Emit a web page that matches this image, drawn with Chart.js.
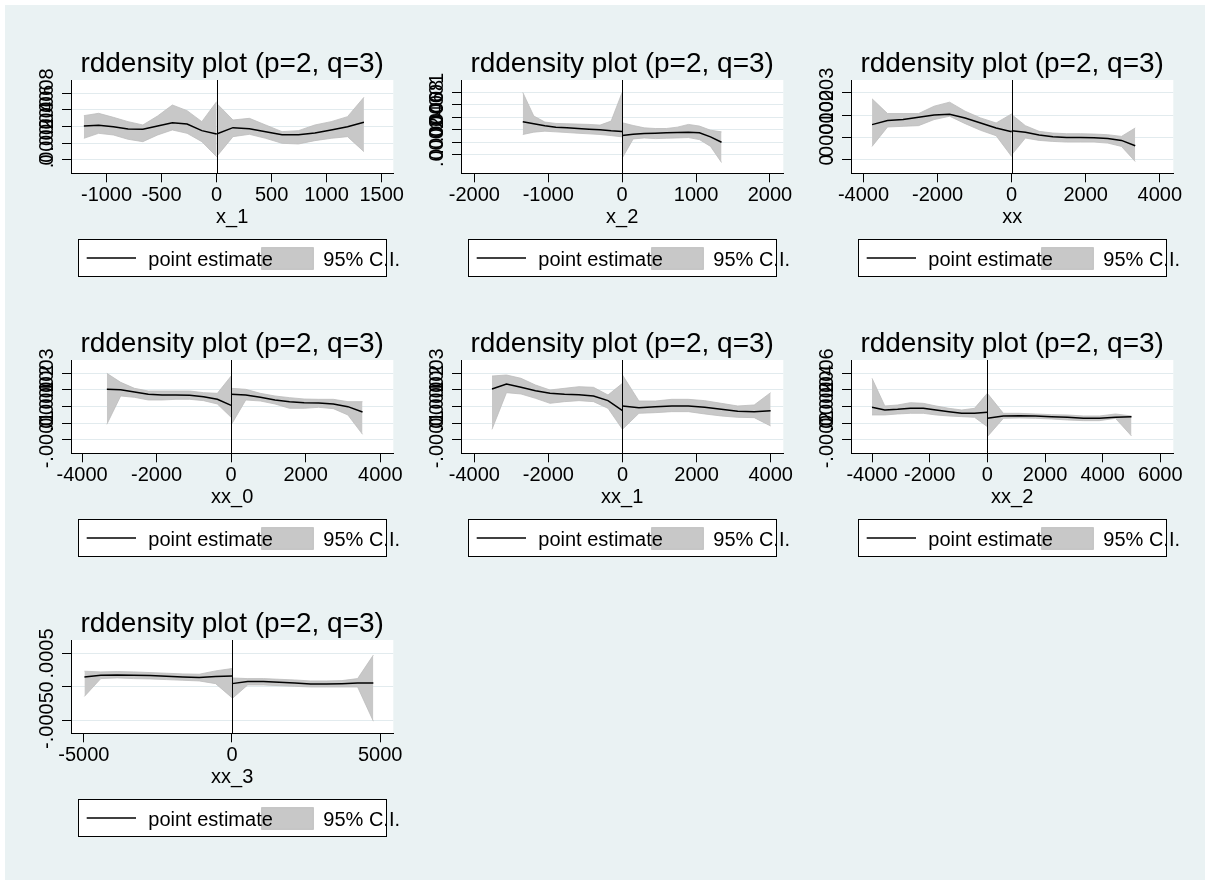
<!DOCTYPE html>
<html><head><meta charset="utf-8">
<script src="https://cdn.jsdelivr.net/npm/chart.js@4.4.1/dist/chart.umd.min.js"></script>
<style>
html,body{margin:0;padding:0;background:#fff;width:1209px;height:880px;overflow:hidden;}
#bg{position:absolute;left:5px;top:5px;width:1200px;height:875px;background:#eaf2f3;}
.panel{position:absolute;width:390px;height:280px;}
</style></head><body>
<div id="bg"></div>
<div class="panel" style="left:20px;top:10px"><canvas id="c0"></canvas></div>
<div class="panel" style="left:410px;top:10px"><canvas id="c1"></canvas></div>
<div class="panel" style="left:800px;top:10px"><canvas id="c2"></canvas></div>
<div class="panel" style="left:20px;top:290px"><canvas id="c3"></canvas></div>
<div class="panel" style="left:410px;top:290px"><canvas id="c4"></canvas></div>
<div class="panel" style="left:800px;top:290px"><canvas id="c5"></canvas></div>
<div class="panel" style="left:20px;top:570px"><canvas id="c6"></canvas></div>
<script>
// ---------- text ----------
const chartTitle = 'rddensity plot (p=2, q=3)';
const axisTitles = ['x_1', 'x_2', 'xx', 'xx_0', 'xx_1', 'xx_2', 'xx_3'];
const legendLabels = ['point estimate', '95% C.I.'];

// ---------- x_1 ----------
const x1GridL = [-1206, -1072, -938, -804, -670, -536, -402, -268, -134, 0];
const x1EstL  = [.000408, .000416, .0004, .000372, .000368, .000408, .000448, .000432, .000352, .000312];
const x1HiL   = [.000532, .00056, .000512, .00046, .00042, .000528, .00066, .000592, .00046, .0007];
const x1LoL   = [.00026, .00032, .0003, .000248, .00022, .0003, .00036, .00032, .00022, .00004];
const x1GridR = [0, 149, 298, 446, 595, 744, 893, 1041, 1190, 1339];
const x1EstR  = [.000312, .000388, .000376, .00034, .000304, .000304, .000324, .00036, .0004, .000452];
const x1HiR   = [.00068, .00048, .0005, .00042, .00034, .000352, .00042, .00046, .00052, .000752];
const x1LoR   = [.00004, .00028, .000308, .00026, .0002, .000192, .000232, .00026, .00028, .0001];
const x1XTicks = [-1000, -500, 0, 500, 1000, 1500];
const x1YTicks = [0, .0002, .0004, .0006, .0008];
const x1YLabels = ['0', '.0002', '.0004', '.0006', '.0008'];
const x1XRange = [-1323, 1606];
const x1YRange = [-0.00016, 0.00096];

// ---------- x_2 ----------
const x2GridL = [-1345, -1196, -1046, -897, -747, -598, -448, -299, -149, 0];
const x2EstL  = [.000527, .000495, .000462, .00044, .000429, .000418, .000408, .000397, .00038, .00037];
const x2HiL   = [.001, .00062, .000522, .0005, .000495, .000489, .000484, .000473, .000538, .001];
const x2LoL   = [.000321, .000359, .000375, .000364, .000353, .000342, .000332, .000321, .000304, .000283];
const x2GridR = [0, 149, 299, 448, 598, 747, 897, 1046, 1196, 1345];
const x2EstR  = [.000304, .000326, .000337, .000342, .000348, .000353, .000359, .000348, .000283, .000196];
const x2HiR   = [.000511, .000467, .000429, .000418, .000418, .00044, .000484, .000457, .000391, .000364];
const x2LoR   = [-.00006, .00025, .000266, .000255, .000261, .000266, .000272, .000239, .00013, -.00013];
const x2XTicks = [-2000, -1000, 0, 1000, 2000];
const x2YTicks = [0, .0002, .0004, .0006, .0008, .001];
const x2YLabels = ['0', '.0002', '.0004', '.0006', '.0008', '.001'];
const x2XRange = [-2181, 2181];
const x2YRange = [-0.000304, 0.0012];

// ---------- xx ----------
const xxGridL = [-3769, -3350, -2931, -2513, -2094, -1675, -1256, -838, -419, 0];
const xxEstL  = [.0001575, .0001755, .00018, .0001905, .000201, .000204, .0001875, .000165, .0001425, .000126];
const xxHiL   = [.000273, .000207, .000207, .000207, .00024, .000258, .0002175, .0001875, .000165, .0002055];
const xxLoL   = [.00006, .000147, .00015, .000153, .00018, .000195, .000162, .000132, .000108, .000015];
const xxGridR = [0, 371, 741, 1112, 1483, 1853, 2224, 2595, 2965, 3336];
const xxEstR  = [.0001305, .000123, .000111, .0001035, .0001005, .0001005, .000099, .000096, .000087, .000063];
const xxHiR   = [.0002025, .000153, .0001275, .00012, .000117, .000117, .0001155, .0001125, .000105, .0001425];
const xxLoR   = [.0000225, .0000975, .000087, .0000825, .0000795, .0000795, .0000795, .000075, .00006, -.0000075];
const xxXTicks = [-4000, -2000, 0, 2000, 4000];
const xxYTicks = [0, .0001, .0002, .0003];
const xxYLabels = ['0', '.0001', '.0002', '.0003'];
const xxXRange = [-4337, 4364];
const xxYRange = [-0.00006, 0.000357];

// ---------- xx_0 ----------
const xx0GridL = [-3335, -2964, -2594, -2223, -1853, -1482, -1112, -741, -371, 0];
const xx0EstL  = [.000204, .000202, .000188, .000174, .00017, .00017, .000168, .00016, .000144, .000108];
const xx0HiL   = [.0003, .000246, .00021, .000194, .000194, .000194, .000194, .000184, .00018, .000284];
const xx0LoL   = [-.000006, .000164, .000156, .00014, .00014, .000144, .000144, .000136, .000116, .000036];
const xx0GridR = [0, 392, 783, 1175, 1566, 1958, 2349, 2741, 3132, 3524];
const xx0EstR  = [.000174, .00017, .000156, .00014, .00013, .000124, .000122, .000116, .0001, .000068];
const xx0HiR   = [.00021, .000204, .00018, .000164, .000154, .000146, .000144, .000144, .00013, .00013];
const xx0LoR   = [-.00001, .00014, .000134, .000116, .00009, .00009, .000096, .000088, .00005, -.000066];
const xx0XTicks = [-4000, -2000, 0, 2000, 4000];
const xx0YTicks = [-.0001, 0, .0001, .0002, .0003];
const xx0YLabels = ['-.0001', '0', '.0001', '.0002', '.0003'];
const xx0XRange = [-4297, 4350];
const xx0YRange = [-0.00018, 0.00038];

// ---------- xx_1 ----------
const xx1GridL = [-3523, -3132, -2740, -2349, -1957, -1566, -1174, -783, -391, 0];
const xx1EstL  = [.000206, .000236, .000216, .000196, .00018, .000174, .000172, .000164, .000136, .000076];
const xx1HiL   = [.000284, .00029, .00027, .00023, .0002, .00021, .00022, .000216, .00017, .00024];
const xx1LoL   = [-.000036, .000184, .000176, .00015, .00012, .00013, .000136, .00013, .00009, -.000036];
const xx1GridR = [0, 444, 889, 1333, 1778, 2222, 2667, 3111, 3556, 4000];
const xx1EstR  = [.000104, .000094, .0001, .000104, .000104, .000096, .000084, .000072, .00007, .000076];
const xx1HiR   = [.00029, .000134, .000134, .000144, .000144, .000136, .00012, .000104, .00011, .000184];
const xx1LoR   = [-.000036, .00006, .000064, .00007, .00007, .000056, .000044, .000036, .000034, -.000016];
const xx1XTicks = [-4000, -2000, 0, 2000, 4000];
const xx1YTicks = [-.0001, 0, .0001, .0002, .0003];
const xx1YLabels = ['-.0001', '0', '.0001', '.0002', '.0003'];
const xx1XRange = [-4360, 4342];
const xx1YRange = [-0.00018, 0.00038];

// ---------- xx_2 ----------
const xx2GridL = [-4000, -3556, -3111, -2667, -2222, -1778, -1333, -889, -444, 0];
const xx2EstL  = [.000192, .00016, .000168, .00018, .00018, .00016, .00014, .00012, .00012, .000132];
const xx2HiL   = [.00054, .000208, .00022, .000248, .00024, .000208, .00018, .00016, .00018, .00036];
const xx2LoL   = [.0001, .0001, .000112, .00012, .00012, .0001, .000088, .00008, .000072, -.00004];
const xx2GridR = [0, 556, 1111, 1667, 2222, 2778, 3333, 3889, 4444, 5000];
const xx2EstR  = [.00006, .000088, .000092, .000088, .00008, .000072, .00006, .00006, .000072, .00008];
const xx2HiR   = [.00036, .00012, .00012, .000112, .000104, .0001, .000088, .000088, .000112, .000088];
const xx2LoR   = [-.00016, .00006, .000064, .00006, .000052, .00004, .000032, .000032, .00006, -.000152];
const xx2XTicks = [-4000, -2000, 0, 2000, 4000, 6000];
const xx2YTicks = [-.0002, 0, .0002, .0004, .0006];
const xx2YLabels = ['-.0002', '0', '.0002', '.0004', '.0006'];
const xx2XRange = [-4729, 6450];
const xx2YRange = [-0.00036, 0.00076];

// ---------- xx_3 ----------
const xx3GridL = [-4980, -4427, -3873, -3320, -2767, -2213, -1660, -1107, -553, 0];
const xx3EstL  = [.00015, .000175, .00018, .000175, .00017, .00016, .00015, .00014, .000155, .000165];
const xx3HiL   = [.000235, .000225, .00023, .000225, .000215, .000205, .000195, .00019, .00024, .000275];
const xx3LoL   = [-.00014, .000125, .000135, .000125, .00012, .00011, .0001, .00009, .00005, -.00016];
const xx3GridR = [0, 530, 1060, 1590, 2120, 2650, 3180, 3710, 4240, 4770];
const xx3EstR  = [.00005, .00008, .00008, .00007, .00006, .000045, .000045, .00005, .00006, .00006];
const xx3HiR   = [.000135, .000125, .000125, .000115, .000105, .00009, .00009, .000095, .000125, .000475];
const xx3LoR   = [-.000175, .00003, .00003, .00002, .00001, 0, 0, 0, 0, -.00051];
const xx3XTicks = [-5000, 0, 5000];
const xx3YTicks = [-.0005, 0, .0005];
const xx3YLabels = ['-.0005', '0', '.0005'];
const xx3XRange = [-5433, 5444];
const xx3YRange = [-0.00069, 0.0007];

const panels = [
  {g1: x1GridL, e1: x1EstL, h1: x1HiL, l1: x1LoL, g2: x1GridR, e2: x1EstR, h2: x1HiR, l2: x1LoR, xt: x1XTicks, yt: x1YTicks, yl: x1YLabels, xr: x1XRange, yr: x1YRange},
  {g1: x2GridL, e1: x2EstL, h1: x2HiL, l1: x2LoL, g2: x2GridR, e2: x2EstR, h2: x2HiR, l2: x2LoR, xt: x2XTicks, yt: x2YTicks, yl: x2YLabels, xr: x2XRange, yr: x2YRange},
  {g1: xxGridL, e1: xxEstL, h1: xxHiL, l1: xxLoL, g2: xxGridR, e2: xxEstR, h2: xxHiR, l2: xxLoR, xt: xxXTicks, yt: xxYTicks, yl: xxYLabels, xr: xxXRange, yr: xxYRange},
  {g1: xx0GridL, e1: xx0EstL, h1: xx0HiL, l1: xx0LoL, g2: xx0GridR, e2: xx0EstR, h2: xx0HiR, l2: xx0LoR, xt: xx0XTicks, yt: xx0YTicks, yl: xx0YLabels, xr: xx0XRange, yr: xx0YRange},
  {g1: xx1GridL, e1: xx1EstL, h1: xx1HiL, l1: xx1LoL, g2: xx1GridR, e2: xx1EstR, h2: xx1HiR, l2: xx1LoR, xt: xx1XTicks, yt: xx1YTicks, yl: xx1YLabels, xr: xx1XRange, yr: xx1YRange},
  {g1: xx2GridL, e1: xx2EstL, h1: xx2HiL, l1: xx2LoL, g2: xx2GridR, e2: xx2EstR, h2: xx2HiR, l2: xx2LoR, xt: xx2XTicks, yt: xx2YTicks, yl: xx2YLabels, xr: xx2XRange, yr: xx2YRange},
  {g1: xx3GridL, e1: xx3EstL, h1: xx3HiL, l1: xx3LoL, g2: xx3GridR, e2: xx3EstR, h2: xx3HiR, l2: xx3LoR, xt: xx3XTicks, yt: xx3YTicks, yl: xx3YLabels, xr: xx3XRange, yr: xx3YRange}
];

// ---------- style ----------
const FONT = '"Liberation Sans", Arial, Helvetica, sans-serif';
const CI_FILL = '#c8c8c8';
const CI_EDGE = '#bcbcbc';
const GRID = '#e2ebee';

Chart.defaults.font.family = FONT;
Chart.defaults.color = '#000';

const stataPlugin = {
  id: 'stata',
  beforeDraw(chart) {
    const {ctx, chartArea: a} = chart;
    ctx.save();
    ctx.fillStyle = '#fff';
    ctx.fillRect(a.left, a.top, a.right - a.left, a.bottom - a.top);
    ctx.restore();
  },
  afterDatasetsDraw(chart) {
    const {ctx, chartArea: a, scales} = chart;
    const px = Math.round(scales.x.getPixelForValue(0)) + 0.5;
    ctx.save();
    ctx.strokeStyle = '#000';
    ctx.lineWidth = 1;
    ctx.beginPath();
    ctx.moveTo(px, a.top);
    ctx.lineTo(px, a.bottom);
    ctx.stroke();
    ctx.restore();
  },
  afterDraw(chart, args, opts) {
    const {ctx, chartArea: a, scales} = chart;
    const cx = (a.left + a.right) / 2;
    ctx.save();
    ctx.fillStyle = '#000';
    // title
    ctx.font = '28px ' + FONT;
    ctx.textAlign = 'center';
    ctx.textBaseline = 'alphabetic';
    ctx.fillText(chartTitle, cx, a.top - 8.5);
    // rotated y tick labels
    ctx.font = '20px ' + FONT;
    opts.yTicks.forEach((v, i) => {
      const py = scales.y.getPixelForValue(v);
      ctx.save();
      ctx.translate(a.left - 25, py);
      ctx.rotate(-Math.PI / 2);
      ctx.textAlign = 'center';
      ctx.textBaseline = 'middle';
      ctx.fillText(opts.yLabels[i], 0, 1);
      ctx.restore();
    });
    // x axis title
    ctx.textAlign = 'center';
    ctx.textBaseline = 'alphabetic';
    ctx.fillText(opts.xTitle, cx, a.bottom + 50);
    // legend
    const L = a.left + 7.3, R = a.right - 6.6, T = a.bottom + 66, B = a.bottom + 103.4;
    const mid = (T + B) / 2;
    ctx.fillStyle = '#fff';
    ctx.fillRect(L, T, R - L, B - T);
    ctx.strokeStyle = '#000';
    ctx.lineWidth = 1.5;
    ctx.beginPath();
    ctx.moveTo(L + 8.4, mid);
    ctx.lineTo(L + 57.7, mid);
    ctx.stroke();
    ctx.fillStyle = CI_FILL;
    ctx.fillRect(L + 183.4, a.bottom + 74.4, 51.6, 21.6);
    ctx.strokeStyle = CI_EDGE;
    ctx.lineWidth = 1;
    ctx.strokeRect(L + 183.4, a.bottom + 74.4, 51.6, 21.6);
    ctx.fillStyle = '#000';
    ctx.textAlign = 'left';
    ctx.fillText(legendLabels[0], L + 70, a.bottom + 92.4);
    ctx.fillText(legendLabels[1], L + 245, a.bottom + 92.4);
    ctx.strokeStyle = '#000';
    ctx.lineWidth = 1;
    ctx.strokeRect(Math.round(L) + 0.5, Math.round(T) + 0.5, Math.round(R - L), Math.round(B - T));
    ctx.restore();
  }
};

function pts(xs, ys) { return xs.map((x, i) => ({x: x, y: ys[i]})); }

panels.forEach((p, k) => {
  const estStyle = {borderColor: '#000', borderWidth: 1.5, pointRadius: 0, fill: false, tension: 0};
  const loStyle = {borderColor: CI_EDGE, borderWidth: 0.8, pointRadius: 0, fill: false, tension: 0};
  const hiStyle = {borderColor: CI_EDGE, borderWidth: 0.8, pointRadius: 0, fill: '-1', backgroundColor: CI_FILL, tension: 0};
  new Chart(document.getElementById('c' + k), {
    type: 'line',
    data: {
      datasets: [
        Object.assign({label: legendLabels[0], data: pts(p.g1, p.e1)}, estStyle),
        Object.assign({label: legendLabels[0], data: pts(p.g2, p.e2)}, estStyle),
        Object.assign({label: 'lower', data: pts(p.g1, p.l1)}, loStyle),
        Object.assign({label: legendLabels[1], data: pts(p.g1, p.h1)}, hiStyle),
        Object.assign({label: 'lower', data: pts(p.g2, p.l2)}, loStyle),
        Object.assign({label: legendLabels[1], data: pts(p.g2, p.h2)}, hiStyle)
      ]
    },
    options: {
      responsive: true,
      maintainAspectRatio: false,
      animation: false,
      events: [],
      layout: {padding: {left: 31, top: 70, right: 16.7, bottom: 71.7}},
      plugins: {
        legend: {display: false},
        tooltip: {enabled: false},
        title: {display: false},
        stata: {yTicks: p.yt, yLabels: p.yl, xTitle: axisTitles[k]}
      },
      scales: {
        x: {
          type: 'linear',
          min: p.xr[0], max: p.xr[1],
          afterBuildTicks: s => { s.ticks = p.xt.map(v => ({value: v})); },
          afterFit: s => { s.height = 45; },
          ticks: {
            autoSkip: false, maxRotation: 0, minRotation: 0, includeBounds: false,
            padding: 1, color: '#000', font: {size: 20, family: FONT},
            callback: v => String(v)
          },
          grid: {display: true, drawOnChartArea: false, drawTicks: true, tickLength: 9, color: '#000', tickColor: '#000', lineWidth: 1},
          border: {display: true, color: '#000', width: 1}
        },
        y: {
          type: 'linear',
          min: p.yr[0], max: p.yr[1],
          afterBuildTicks: s => { s.ticks = p.yt.map(v => ({value: v})); },
          afterFit: s => { s.width = 20; },
          ticks: {display: false, includeBounds: false},
          grid: {display: true, drawOnChartArea: true, drawTicks: true, tickLength: 9, color: GRID, tickColor: '#000', lineWidth: 1},
          border: {display: true, color: '#000', width: 1}
        }
      }
    },
    plugins: [stataPlugin]
  });
});
</script>
</body></html>
